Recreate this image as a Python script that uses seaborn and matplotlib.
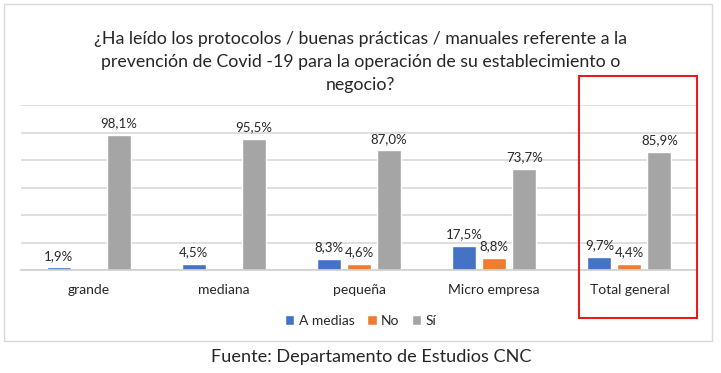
import pandas as pd
import numpy as np
import matplotlib
matplotlib.use('Agg')
import matplotlib.pyplot as plt
import matplotlib.patches as mpatches
import seaborn as sns

categorias = ['grande', 'mediana', 'pequeña', 'Micro empresa', 'Total general']
series = ['A medias', 'No', 'Sí']
a_medias = [1.9, 4.5, 8.3, 17.5, 9.7]
no = [np.nan, np.nan, 4.6, 8.8, 4.4]
si = [98.1, 95.5, 87.0, 73.7, 85.9]
colores = ['#4472C4', '#ED7D31', '#A5A5A5']

df = pd.DataFrame({
    'categoria': categorias * 3,
    'respuesta': [s for s in series for _ in categorias],
    'valor': a_medias + no + si,
})

sns.set_theme(style='white')
plt.rcParams['font.family'] = ['Lato', 'DejaVu Sans']

fig = plt.figure(figsize=(7.21, 3.73), dpi=100)
ax = fig.add_axes([21 / 721, 1 - 270 / 373, 676 / 721, 165 / 373])

sns.barplot(data=df, x='categoria', y='valor', hue='respuesta',
            order=categorias, hue_order=series, palette=colores,
            width=0.667, gap=0.2, saturation=1, ax=ax, legend=True)

for cont in ax.containers:
    ax.bar_label(cont, fmt=lambda v: f'{v:.1f}%'.replace('.', ','),
                 padding=4, fontsize=9.5, color='#262626')

ax.set_ylim(0, 120)
ax.set_yticks(range(0, 121, 20))
ax.set_yticklabels([])
ax.grid(axis='y', color='#D9D9D9', linewidth=1.2)
ax.set_axisbelow(True)
for s in ['top', 'left', 'right']:
    ax.spines[s].set_visible(False)
ax.spines['bottom'].set_color('#D0D0D0')
ax.spines['bottom'].set_linewidth(1.2)
ax.tick_params(axis='x', length=0, pad=10, labelsize=10, labelcolor='#262626')
ax.tick_params(axis='y', length=0)
ax.set_xlabel('')
ax.set_ylabel('')

ax.legend(loc='center', bbox_to_anchor=(0.5, 1 - 321 / 373),
          bbox_transform=fig.transFigure, ncol=3, frameon=False,
          fontsize=10, handlelength=0.7, handleheight=0.7,
          handletextpad=0.3, columnspacing=0.9, labelcolor='#262626')

fig.text(0.5, 1 - 62 / 373,
         '¿Ha leído los protocolos / buenas prácticas / manuales referente a la\n'
         'prevención de Covid -19 para la operación de su establecimiento o\n'
         'negocio?', ha='center', va='center', fontsize=12.8,
         linespacing=1.55, color='#262626')

fig.text(371 / 721, 1 - 357 / 373, 'Fuente: Departamento de Estudios CNC',
         ha='center', va='center', fontsize=13.1, color='#262626')

# marco del gráfico y recuadro rojo
fig.patches.append(mpatches.Rectangle((4 / 721, 1 - 341 / 373), 708 / 721, 337 / 373,
                                      transform=fig.transFigure, fill=False,
                                      edgecolor='#D9D9D9', linewidth=1))
fig.patches.append(mpatches.Rectangle((579 / 721, 1 - 318 / 373), 118 / 721, 242 / 373,
                                      transform=fig.transFigure, fill=False,
                                      edgecolor='#E81C1C', linewidth=1.5))

plt.savefig('out.png', dpi=100)
